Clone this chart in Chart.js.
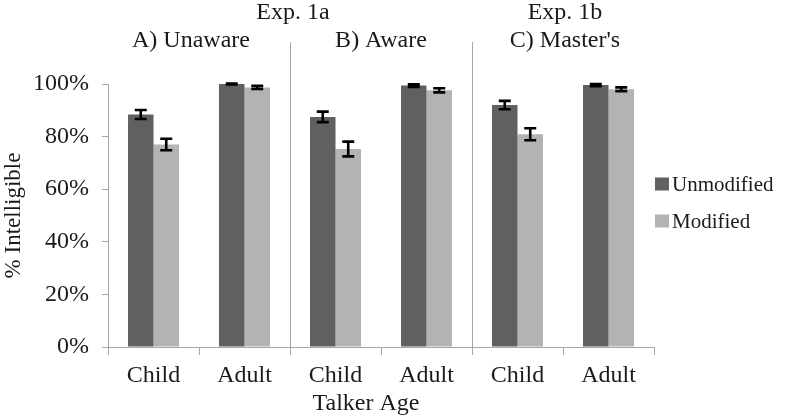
<!DOCTYPE html>
<html>
<head>
<meta charset="utf-8">
<script src="https://cdn.jsdelivr.net/npm/chart.js@4/dist/chart.umd.min.js"></script>
<style>
  html, body { margin: 0; padding: 0; background: #fff; }
  #wrap { width: 800px; height: 418px; }
</style>
</head>
<body>
<div id="wrap"><canvas id="chart" width="800" height="418"></canvas></div>
<script>
// --- data ---
const categories = ['Child', 'Adult', 'Child', 'Adult', 'Child', 'Adult'];
const unmodified = [88.4, 100, 87.5, 99.4, 92.0, 99.6];
const unmodifiedErr = [1.7, 0.2, 2.0, 0.5, 1.6, 0.4];
const modified = [77.0, 98.7, 75.3, 97.6, 80.9, 98.0];
const modifiedErr = [2.2, 0.6, 2.8, 0.8, 2.3, 0.7];
const yTicks = [0, 20, 40, 60, 80, 100];
const groupTitles = ['A) Unaware', 'B) Aware', "C) Master's"];
const seriesNames = ['Unmodified', 'Modified'];

const FONT = 'Liberation Serif, Times New Roman, serif';
const TEXT = '#1a1a1a';
const AXIS = '#a6a6a6';
const DARK = '#606060';
const LIGHT = '#b3b3b3';

// error bars, group separators, headers, legend
const extras = {
    id: 'extras',
    afterDatasetsDraw(chart) {
        const ctx = chart.ctx;
        const y = chart.scales.y;
        const errs = [unmodifiedErr, modifiedErr];
        const vals = [unmodified, modified];
        ctx.save();
        ctx.strokeStyle = '#000';
        ctx.lineWidth = 2.6;
        chart.data.datasets.forEach((ds, di) => {
            chart.getDatasetMeta(di).data.forEach((bar, i) => {
                const top = y.getPixelForValue(vals[di][i] + errs[di][i]);
                const bot = y.getPixelForValue(vals[di][i] - errs[di][i]);
                const x = bar.x;
                ctx.beginPath();
                ctx.moveTo(x, top); ctx.lineTo(x, bot);
                ctx.moveTo(x - 6, top); ctx.lineTo(x + 6, top);
                ctx.moveTo(x - 6, bot); ctx.lineTo(x + 6, bot);
                ctx.stroke();
            });
        });
        ctx.restore();
    },
    afterDraw(chart) {
        const ctx = chart.ctx;
        const x = chart.scales.x;
        const area = chart.chartArea;
        const px = i => x.getPixelForValue(i);

        ctx.save();
        // separators between the three panels
        ctx.strokeStyle = AXIS;
        ctx.lineWidth = 1;
        const seps = [(px(1) + px(2)) / 2, (px(3) + px(4)) / 2];
        seps.forEach(sx => {
            ctx.beginPath();
            ctx.moveTo(Math.round(sx) + 0.5, 42);
            ctx.lineTo(Math.round(sx) + 0.5, area.bottom + 8);
            ctx.stroke();
        });

        // panel headers
        ctx.fillStyle = TEXT;
        ctx.font = '24px ' + FONT;
        ctx.textAlign = 'center';
        ctx.textBaseline = 'middle';
        const nudge = [-8, 0, 2];
        groupTitles.forEach((t, g) => {
            const cx = (px(2 * g) + px(2 * g + 1)) / 2;
            ctx.fillText(t, cx + nudge[g], 41);
        });
        ctx.fillText('Exp. 1a', seps[0] + 3, 13);
        ctx.fillText('Exp. 1b', (px(4) + px(5)) / 2 + 2, 13);

        // x axis title
        ctx.fillText('Talker Age', 366, 404);

        // legend
        const colors = [DARK, LIGHT];
        ctx.font = '21px ' + FONT;
        ctx.textAlign = 'left';
        seriesNames.forEach((n, k) => {
            const ly = 184 + k * 37;
            ctx.fillStyle = colors[k];
            ctx.fillRect(655, ly - 6.5, 14, 13);
            ctx.fillStyle = TEXT;
            ctx.fillText(n, 672, ly + 1);
        });
        ctx.restore();
    }
};

new Chart(document.getElementById('chart'), {
    type: 'bar',
    data: {
        labels: categories,
        datasets: [
            { label: seriesNames[0], data: unmodified, backgroundColor: DARK },
            { label: seriesNames[1], data: modified, backgroundColor: LIGHT }
        ]
    },
    options: {
        responsive: false,
        animation: false,
        layout: { padding: { top: 84, right: 146, left: 0, bottom: 0 } },
        datasets: { bar: { categoryPercentage: 0.56, barPercentage: 1.0 } },
        plugins: { legend: { display: false }, tooltip: { enabled: false } },
        scales: {
            x: {
                afterFit: s => { s.height = 71; },
                grid: { display: true, drawOnChartArea: false, tickLength: 8, color: AXIS, offset: true },
                border: { color: AXIS },
                ticks: { color: TEXT, font: { family: FONT, size: 24 }, padding: 6, maxRotation: 0 }
            },
            y: {
                min: 0,
                max: 100,
                afterFit: s => { s.width = 108; },
                afterBuildTicks: s => { s.ticks = yTicks.map(v => ({ value: v })); },
                grid: { drawOnChartArea: false, tickLength: 6, color: AXIS },
                border: { color: AXIS },
                ticks: {
                    color: TEXT,
                    font: { family: FONT, size: 24 },
                    padding: 13,
                    callback: v => v + '%'
                },
                title: {
                    display: true,
                    text: '% Intelligible',
                    color: TEXT,
                    font: { family: FONT, size: 23 },
                    padding: { top: 0, bottom: 0 }
                }
            }
        }
    },
    plugins: [extras]
});
</script>
</body>
</html>
